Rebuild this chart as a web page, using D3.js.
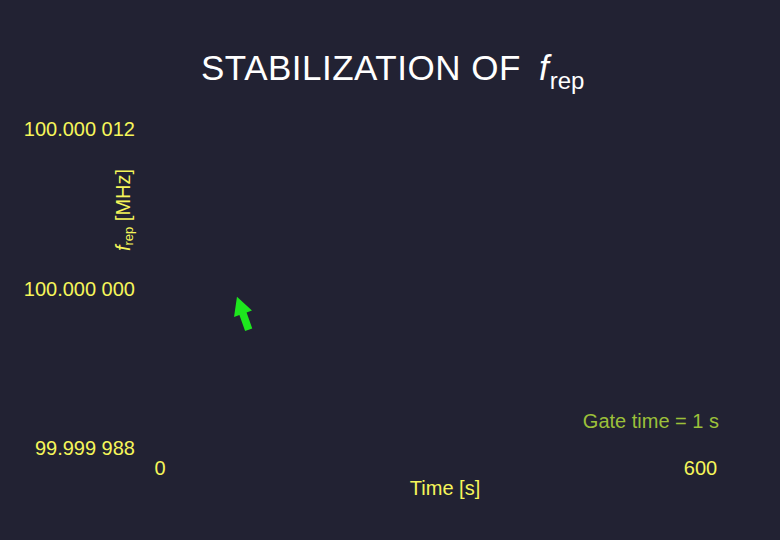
<!DOCTYPE html>
<html>
<head>
<meta charset="utf-8">
<script src="https://cdn.jsdelivr.net/npm/d3@7"></script>
<style>
  html, body { margin: 0; padding: 0; background: #222233; }
  svg { display: block; font-family: "Liberation Sans", Arial, sans-serif; }
</style>
</head>
<body>
<svg id="chart" width="780" height="540"></svg>
<script>
// tick values
const yTicks = [99.999988, 100.000000, 100.000012]
const xTicks = [0, 600]
const gateNote = "Gate time = 1 s"

// green pointer annotation, in data units (time s, frequency MHz)
const arrowTip = {t: 86, f: 99.9999994}
const arrowTail = {t: 99, f: 99.99999692}

const W = 780, H = 540
const yellow = "#f6f65a"

let svg = d3.select("#chart")
svg.append("rect").attr("width", W).attr("height", H).attr("fill", "#222233")

let x = d3.scaleLinear().domain([0, 600]).range([159.5, 700])
let y = d3.scaleLinear().domain([99.999988, 100.000012]).range([448.5, 129])

function freqFormat(v) {
    let s = d3.format(".6f")(v)
    return s.slice(0, -3) + " " + s.slice(-3)
}

// title
let title = svg.append("text")
    .attr("x", 201)
    .attr("y", 80)
    .attr("fill", "#ffffff")
    .attr("font-size", 35)
title.append("tspan").attr("letter-spacing", 0.5).text("STABILIZATION OF ")
title.append("tspan").attr("font-style", "italic").attr("dx", 8).text("f")
title.append("tspan").attr("font-size", 24).attr("dy", 9).attr("dx", 1).text("rep")

// y axis labels
let yAxis = svg.append("g")
    .attr("transform", "translate(135,0)")
    .call(d3.axisLeft(y).tickValues(yTicks).tickSize(0).tickPadding(0).tickFormat(freqFormat))
yAxis.select(".domain").remove()
yAxis.selectAll("text")
    .attr("fill", yellow)
    .attr("font-size", 20)
    .attr("font-family", "Liberation Sans, Arial, sans-serif")

// x axis labels
let xAxis = svg.append("g")
    .attr("transform", "translate(0,461)")
    .call(d3.axisBottom(x).tickValues(xTicks).tickSize(0).tickPadding(0).tickFormat(d3.format("d")))
xAxis.select(".domain").remove()
xAxis.selectAll("text")
    .attr("fill", yellow)
    .attr("font-size", 20)
    .attr("font-family", "Liberation Sans, Arial, sans-serif")

// axis titles
let yLabel = svg.append("text")
    .attr("transform", "translate(130,210) rotate(-90)")
    .attr("text-anchor", "middle")
    .attr("fill", yellow)
    .attr("font-size", 20)
yLabel.append("tspan").attr("font-style", "italic").text("f")
yLabel.append("tspan").attr("font-size", 13).attr("dy", 3).text("rep")
yLabel.append("tspan").attr("dy", -3).text(" [MHz]")

svg.append("text")
    .attr("x", 445)
    .attr("y", 495)
    .attr("text-anchor", "middle")
    .attr("fill", yellow)
    .attr("font-size", 20)
    .text("Time [s]")

svg.append("text")
    .attr("x", 719)
    .attr("y", 428)
    .attr("text-anchor", "end")
    .attr("fill", "#9cc03a")
    .attr("font-size", 20)
    .text(gateNote)

// arrow built from tip/tail through the scales
function arrowPath(tip, tail) {
    let tx = x(tip.t), ty = y(tip.f)
    let bx = x(tail.t), by = y(tail.f)
    let len = Math.hypot(bx - tx, by - ty)
    let ux = (bx - tx) / len, uy = (by - ty) / len   // towards tail
    let px = -uy, py = ux                            // perpendicular
    let head = 18, hw = 9.5, sw = 3.8
    let pt = (a, p) => [tx + ux * a + px * p, ty + uy * a + py * p]
    let pts = [pt(0, 0), pt(head, hw), pt(head, sw), pt(len, sw), pt(len, -sw), pt(head, -sw), pt(head, -hw)]
    return "M" + pts.map(p => p.join(",")).join("L") + "Z"
}

svg.append("path")
    .attr("d", arrowPath(arrowTip, arrowTail))
    .attr("fill", "#1ee61e")
</script>
</body>
</html>
